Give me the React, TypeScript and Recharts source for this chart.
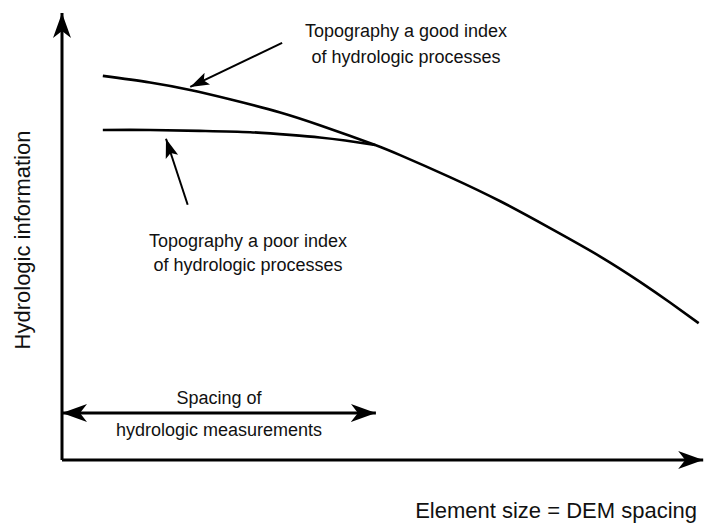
import React from "react"
import { LineChart, Line, XAxis, YAxis, ReferenceLine } from "recharts"

// Conceptual curves, unitless 0..100 on both axes.
const goodX = [6.4, 13.8, 20.1, 26.3, 34.2, 40.4, 45.1, 49.1, 53.0, 60.8, 68.7, 76.5, 84.3, 90.6, 95.3, 99.8]
const goodY = [87.3, 85.8, 84.1, 82.0, 79.0, 76.1, 73.7, 71.6, 69.3, 64.3, 58.8, 52.7, 46.3, 40.5, 35.8, 31.1]
const poorX = [6.4, 13.8, 21.6, 29.5, 35.7, 40.4, 44.4, 49.1]
const poorY = [75.0, 75.0, 74.8, 74.5, 73.9, 73.3, 72.6, 71.6]

// Arrow annotations, same units
const xAxisEnd = 100.5
const yAxisEnd = 101.6
const spacingLevel = 10.7
const spacingEnd = 49.2
const goodPointer = [{ x: 34.5, y: 94.8 }, { x: 20.1, y: 84.8 }]
const poorPointer = [{ x: 19.7, y: 58.0 }, { x: 16.3, y: 73.0 }]

const goodData = goodX.map((x, i) => ({ x, y: goodY[i] }))
const poorData = poorX.map((x, i) => ({ x, y: poorY[i] }))

const W = 705
const H = 524
const FONT = "'Liberation Sans', Arial, Helvetica, sans-serif"

function Markers() {
  return (
    <svg width={0} height={0} style={{ position: "absolute" }}>
      <defs>
        <marker id="bigHead" markerUnits="userSpaceOnUse" viewBox="0 0 26 20" markerWidth={26} markerHeight={20} refX={25} refY={10} orient="auto-start-reverse">
          <path d="M0,1 L25,10 L0,19 L7,10 Z" fill="#000" />
        </marker>
        <marker id="smallHead" markerUnits="userSpaceOnUse" viewBox="0 0 20 14" markerWidth={20} markerHeight={14} refX={19} refY={7} orient="auto">
          <path d="M0,0.5 L19,7 L0,13.5 L4,7 Z" fill="#000" />
        </marker>
      </defs>
    </svg>
  )
}

export default function App() {
  return (
    <div style={{ position: "absolute", left: 0, top: 0, width: W, height: H, background: "#fff" }}>
      <Markers />
      <LineChart width={W} height={H} margin={{ top: 20, right: 5, bottom: 64, left: 62 }}>
        <XAxis type="number" dataKey="x" domain={[0, 100]} hide />
        <YAxis type="number" dataKey="y" domain={[0, 100]} hide />
        <ReferenceLine
          segment={[{ x: 0, y: 0 }, { x: xAxisEnd, y: 0 }]}
          stroke="#000"
          strokeWidth={3}
          ifOverflow="visible"
          markerEnd="url(#bigHead)"
        />
        <ReferenceLine
          segment={[{ x: 0, y: 0 }, { x: 0, y: yAxisEnd }]}
          stroke="#000"
          strokeWidth={3}
          ifOverflow="visible"
          markerEnd="url(#bigHead)"
        />
        <ReferenceLine
          segment={[{ x: 0, y: spacingLevel }, { x: spacingEnd, y: spacingLevel }]}
          stroke="#000"
          strokeWidth={3}
          ifOverflow="visible"
          markerStart="url(#bigHead)"
          markerEnd="url(#bigHead)"
        />
        <ReferenceLine segment={goodPointer} stroke="#000" strokeWidth={2} ifOverflow="visible" markerEnd="url(#smallHead)" />
        <ReferenceLine segment={poorPointer} stroke="#000" strokeWidth={2} ifOverflow="visible" markerEnd="url(#smallHead)" />
        <Line data={goodData} dataKey="y" type="natural" stroke="#000" strokeWidth={2.6} dot={false} isAnimationActive={false} />
        <Line data={poorData} dataKey="y" type="natural" stroke="#000" strokeWidth={2.6} dot={false} isAnimationActive={false} />
      </LineChart>
      <svg width={W} height={H} style={{ position: "absolute", left: 0, top: 0, pointerEvents: "none" }} fontFamily={FONT} fill="#111">
        <text x={406} y={37} fontSize={18} textAnchor="middle">Topography a good index</text>
        <text x={406} y={63} fontSize={18} textAnchor="middle">of hydrologic processes</text>
        <text x={248} y={247} fontSize={18} textAnchor="middle">Topography a poor index</text>
        <text x={248} y={271} fontSize={18} textAnchor="middle">of hydrologic processes</text>
        <text x={219} y={404} fontSize={18} textAnchor="middle">Spacing of</text>
        <text x={219} y={436} fontSize={18} textAnchor="middle">hydrologic measurements</text>
        <text x={697} y={518} fontSize={22} textAnchor="end">Element size = DEM spacing</text>
        <text x={30} y={240} fontSize={22} textAnchor="middle" transform="rotate(-90 30 240)">Hydrologic information</text>
      </svg>
    </div>
  )
}
